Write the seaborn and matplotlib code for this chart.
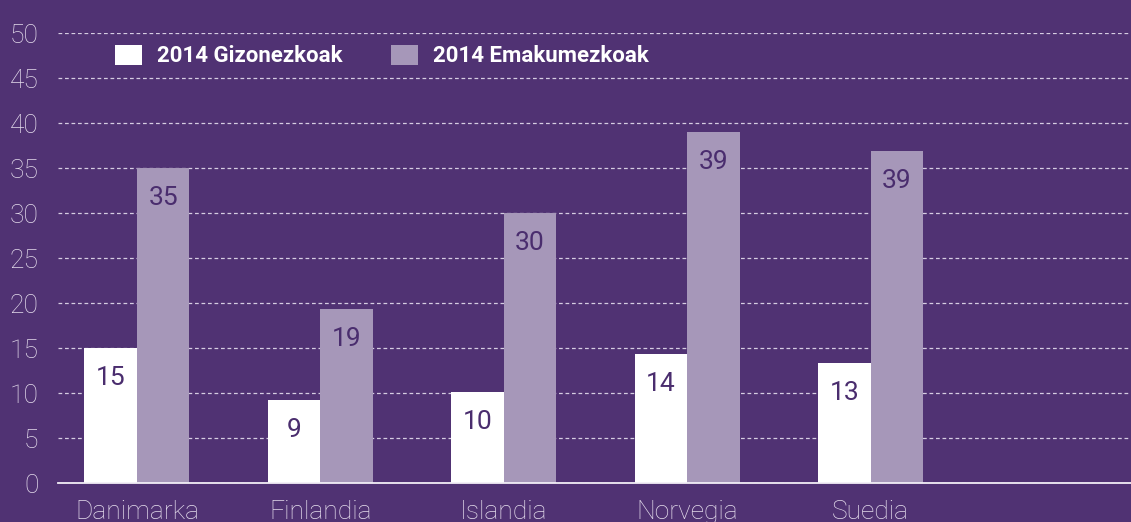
"""Nordic countries, 2014: men vs women bar chart (purple theme)."""

import matplotlib

matplotlib.use("Agg")
import matplotlib.pyplot as plt
import pandas as pd
import seaborn as sns


COUNTRIES = ["Danimarka", "Finlandia", "Islandia", "Norvegia", "Suedia"]
SERIES = ["2014 Gizonezkoak", "2014 Emakumezkoak"]
MEN = [15, 9.2, 10.1, 14.3, 13.3]
WOMEN = [35, 19.3, 30, 39, 36.9]
MEN_LABELS = ["15", "9", "10", "14", "13"]
WOMEN_LABELS = ["35", "19", "30", "39", "39"]
Y_TICKS = [0, 5, 10, 15, 20, 25, 30, 35, 40, 45, 50]

BG = "#503273"
WHITE = "#ffffff"
LILAC = "#a697b9"
TEXT = "#e4dcec"
DARK = "#4a2d6e"


def build_frame() -> pd.DataFrame:
    rows = []
    for country, m, w in zip(COUNTRIES, MEN, WOMEN):
        rows.append({"country": country, "series": SERIES[0], "value": m})
        rows.append({"country": country, "series": SERIES[1], "value": w})
    return pd.DataFrame(rows)


def main() -> None:
    sns.set_style("white")
    plt.rcParams["font.family"] = ["Roboto", "DejaVu Sans"]

    df = build_frame()
    fig = plt.figure(figsize=(11.31, 5.22), dpi=100, facecolor=BG)
    ax = fig.add_axes([0.0513, 0.0747, 0.9487, 0.862])
    ax.set_facecolor(BG)

    sns.barplot(
        data=df, x="country", y="value", hue="series",
        order=COUNTRIES, hue_order=SERIES,
        palette=[WHITE, LILAC], saturation=1,
        width=0.572, gap=0, linewidth=0, ax=ax, zorder=3,
    )

    for container, labels in zip(ax.containers, [MEN_LABELS, WOMEN_LABELS]):
        ax.bar_label(container, labels=labels, padding=-30, color=DARK,
                     fontsize=19, fontweight="normal", zorder=4)

    ax.set_ylim(0, 50)
    ax.set_xlim(-0.43, 5.42)
    ax.set_yticks(Y_TICKS)
    ax.set_xlabel("")
    ax.set_ylabel("")
    ax.yaxis.grid(True, linestyle=(0, (3, 2.2)), color="#d6cde2", linewidth=0.9)
    ax.set_axisbelow(True)
    ax.tick_params(axis="y", length=0, pad=14, labelsize=19, labelcolor=TEXT)
    ax.tick_params(axis="x", length=0, pad=12, labelsize=19, labelcolor=TEXT)
    for lbl in ax.get_yticklabels() + ax.get_xticklabels():
        lbl.set_fontweight("light")

    for side in ["top", "right", "left"]:
        ax.spines[side].set_visible(False)
    ax.spines["bottom"].set_color("#f2eef6")
    ax.spines["bottom"].set_linewidth(1.3)
    ax.spines["bottom"].set_zorder(5)

    sns.move_legend(
        ax, loc="center left", bbox_to_anchor=(0.043, 0.949), ncol=2,
        frameon=False, title=None, borderpad=0, handlelength=1.2,
        handleheight=1.05, handletextpad=0.68, columnspacing=2.2,
        prop={"weight": "bold", "size": 16}, labelcolor=WHITE,
    )

    fig.savefig("out.png", dpi=100, facecolor=BG)
    plt.close(fig)


if __name__ == "__main__":
    main()
